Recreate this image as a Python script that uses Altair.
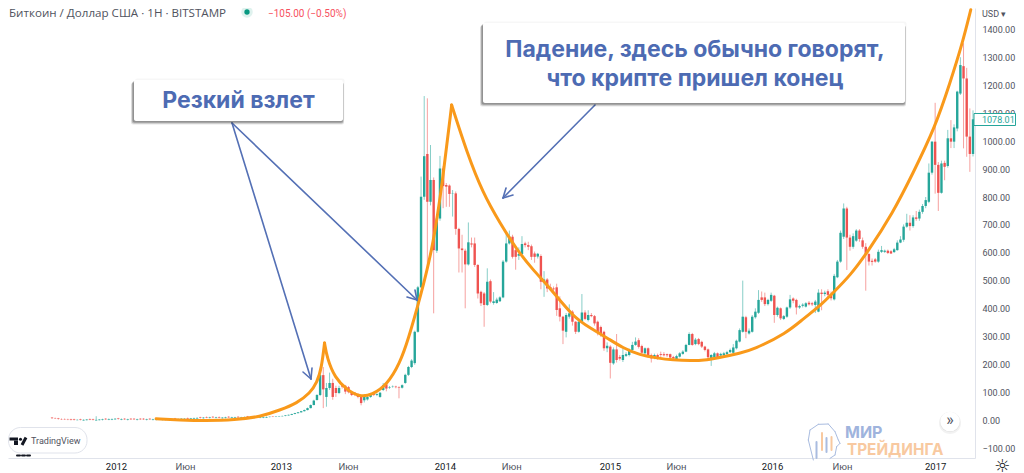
import altair as alt
import pandas as pd

# ---------- weekly candles (USD) ----------
open_ = [
    11,9,8,6,6,5,5,5,2,5, 1,2,6,5,1,2,3,7,4,4,
    5,8,4,7,3,7,7,3,7,7, 3,7,3,3,7,3,3,4,4,8,
    4,5,5,9,6,7,8,12,9,13, 10,14,10,13,9,10,14,10,10,14,
    10,11,15,11,11,15,11,11,
    11,13,15,14,15,16,17,19,21,24, 27,30,34,38,45,56,74,92,
    163,85,117,135,117,99,127,125,120,100,
    100,95,85,73,76,85,95,92,85,110,
    130,118,122,122,120,118,135,164,192,206,
    318,477,801,954,783,861,608,723,902,843,
    841,813,813,686,616,608,559,634,634,557,
    461,455,414,499,421,421,427,441,569,634,
    658,610,590,596,634,628,624,598,587,589,
    497,505,478,473,477,402,372,318,372,390,
    354,318,354,387,360,378,374,354,335,318,
    259,265,205,255,228,217,232,235,253,271,
    288,267,241,259,235,225,235,238,238,238,
    238,228,220,229,239,247,271,310,274,292,
    282,265,255,223,227,241,233,235,238,245,
    243,259,283,318,370,312,318,370,386,441,
    441,417,429,447,378,402,364,372,405,437,
    432,405,411,408,422,420,414,390,458,453,
    463,453,434,513,569,658,759,655,622,644,
    680,645,622,596,572,577,569,604,604,608,
    606,603,610,637,647,694,708,696,727,723,
    747,768,783,887,998,915,815,922,911,1010,
    998,1045,1170,1268,1224,1016,954,
]
close = [
    9,8,6,5,5,4,3,3,3,3, 3,4,4,3,3,4,5,5,6,6,
    7,6,6,5,5,5,5,5,5,5, 5,5,5,5,5,5,5,6,6,6,
    6,7,7,7,8,9,10,10,11,11, 12,12,12,11,11,12,12,12,12,12,
    12,13,13,13,13,13,13,13,
    13,14,14,15,16,17,19,21,24,27, 30,34,38,45,56,72,92,163,
    112,117,135,85,99,117,122,104,102,92,
    92,85,63,85,85,92,92,95,100,127,
    115,120,123,120,118,127,164,192,215,318,
    477,801,946,783,861,610,723,902,839,837,
    811,814,686,616,610,559,638,630,557,455,
    420,414,497,426,427,433,441,569,634,658,
    586,586,596,632,628,622,586,586,597,497,
    505,473,473,470,396,372,322,378,384,354,
    318,354,387,364,378,374,348,315,307,259,
    268,207,255,217,222,235,238,250,271,283,
    264,243,259,235,223,235,223,235,234,234,
    226,223,231,241,247,271,310,271,290,274,
    265,253,227,235,241,227,239,241,245,253,
    262,286,324,372,318,322,372,390,432,432,
    417,432,450,378,404,366,374,405,434,429,
    405,410,415,420,416,416,426,458,453,458,
    450,438,518,569,672,759,655,622,660,680,
    650,622,596,569,568,569,604,610,608,600,
    598,613,637,648,694,708,696,727,722,747,
    768,789,887,998,915,815,920,908,1010,998,
    1049,1177,1272,1224,1016,954,1078,
]
high = [
    13,11,10,8,8,7,7,7,5,7, 5,6,8,7,16,6,7,9,8,8,
    9,10,8,9,7,9,9,7,9,9, 7,9,7,7,9,7,7,8,8,10,
    8,9,9,11,10,11,12,14,13,15, 14,16,14,15,13,14,16,14,14,16,
    14,15,17,15,15,17,15,15,
    15,15,16,16,17,18,20,22,25,28, 31,35,40,47,58,75,95,170,
    192,135,172,150,125,125,130,128,124,104,
    103,98,88,95,88,95,98,98,103,135,
    133,124,126,125,123,130,168,196,220,322,
    482,873,1161,1153,986,870,735,947,910,850,
    845,825,820,690,665,615,709,655,655,560,
    465,460,545,505,460,440,445,575,676,680,
    665,625,620,660,640,640,630,605,600,595,
    535,510,490,480,490,445,375,385,416,395,
    356,360,453,395,395,385,378,358,340,322,
    280,270,262,310,235,258,245,258,282,298,
    295,272,262,262,240,240,240,247,245,240,
    240,232,236,245,252,275,316,314,296,296,
    286,268,258,238,246,244,243,246,250,258,
    274,290,330,501,375,330,378,402,467,462,
    458,436,458,450,408,405,378,408,450,441,
    436,415,420,424,428,425,432,470,470,465,
    470,462,525,575,680,777,765,665,670,685,
    685,655,635,600,580,582,612,625,612,612,
    610,618,645,660,702,740,735,735,750,755,
    775,800,920,1000,1137,925,930,930,1040,1075,
    1060,1180,1300,1350,1262,1117,1110,
]
low = [
    7,6,4,3,3,2,1,1,1,1, 0,1,2,1,0,1,1,3,2,2,
    3,4,2,3,1,3,3,1,3,3, 1,3,1,1,3,1,1,2,2,4,
    2,3,3,5,4,5,6,8,7,9, 8,10,8,9,7,8,10,8,8,10,
    8,9,11,9,9,11,9,9,
    10,12,13,13,14,15,16,18,20,23, 26,29,33,37,44,55,72,88,
    45,50,110,75,85,95,115,95,98,88,
    88,80,55,65,72,82,88,88,82,106,
    105,114,118,116,80,115,132,160,188,200,
    315,475,790,539,770,384,600,715,760,765,
    765,730,665,530,530,402,555,620,550,437,
    410,336,410,420,415,418,425,438,565,630,
    580,540,575,590,620,610,575,565,580,470,
    443,460,465,460,375,355,274,298,365,340,
    310,315,350,360,355,370,340,305,300,250,
    245,151,200,208,215,210,228,230,248,268,
    258,238,236,230,208,220,218,228,230,228,
    222,218,216,226,236,245,270,268,270,270,
    260,248,222,196,224,222,228,232,236,242,
    240,255,280,315,295,308,315,365,382,425,
    410,412,425,350,372,360,360,368,400,420,
    380,400,405,405,412,410,385,388,395,445,
    440,430,430,510,565,650,539,608,615,640,
    640,615,465,555,555,565,565,600,600,596,
    596,600,608,635,640,690,680,690,715,715,
    740,760,778,880,812,750,812,860,905,975,
    975,1035,1165,974,944,890,945,
]

# orange hand-drawn curve: (candle position, USD), three strokes
curve_pos = [
    [33,40.6,48.5,58,66,72.3,77.7,81.8,84,85.5,86.4],
    [86.4,87.2,89.7,93.5,97.6,101.4,106.2,110.3,112.9,116.7,120.8,124,126.7],
    [126.7,131.6,136.6,142,147.4,152.5,157.9,165.2,170.6,176,181,186.4,191.8,196.9,
     202.3,207.7,212.7,218.1,222.2,233,238.1,243.5,248.2,253,258.4,266.6,273,280,284.7,288.5,291.3],
]
curve_val = [
    [7,2.5,0,2.5,14,38,63,99,135,192,278],
    [278,224,153,110,85,92,128,206,289,439,621,872,1129],
    [1129,957,814,707,611,539,475,371,332,296,260,235,224,217,
     214,217,228,242,253,314,364,410,464,519,600,743,886,1050,1208,1344,1470],
]

y_ticks = list(range(-100, 1500, 100))
x_ticks = [(2012,1,11),(2012,6,12),(2013,1,11),(2013,6,9),(2014,1,10),(2014,6,6),
           (2015,1,11),(2015,6,7),(2016,1,6),(2016,6,9),(2017,1,2)]

TEAL, RED, ORANGE, BLUE = "#26a69a", "#ef5350", "#f9991a", "#5470b5"
GREY, LINE = "#50535e", "#e0e3eb"
UI = "Roboto"
BOX = "Inter"

last = pd.Timestamp("2017-03-27")
PX_DAY = 3.154 / 7
n = len(close)
assert n == len(open_) == len(high) == len(low)
dates = [last - pd.Timedelta(days=7 * (n - 1 - i)) for i in range(n)]
candles = pd.DataFrame({"date": dates, "open": open_, "close": close, "high": high, "low": low})

curves = pd.DataFrame(
    [{"stroke": k, "order": j,
      "date": last - pd.Timedelta(days=7 * (n - 1 - p)), "usd": v}
     for k, (ps, vs) in enumerate(zip(curve_pos, curve_val))
     for j, (p, v) in enumerate(zip(ps, vs))]
)

dom_end = last + pd.Timedelta(days=2 / PX_DAY)
dom_start = dom_end - pd.Timedelta(days=967 / PX_DAY)
x_scale = alt.Scale(domain=[dom_start.strftime("%Y-%m-%dT%H:%M:%S"), dom_end.strftime("%Y-%m-%dT%H:%M:%S")])
y_scale = alt.Scale(domain=[-133.4, 1476], nice=False, zero=False)

YEAR = "month(datum.value)==0"
x_axis = alt.Axis(
    title=None, grid=False, ticks=False, domainColor=LINE, domainWidth=1,
    values=[alt.DateTime(year=a, month=b, date=c) for a, b, c in x_ticks],
    labelExpr=f"{YEAR} ? timeFormat(datum.value,'%Y') : 'Июн'",
    labelColor={"condition": {"test": YEAR, "value": "#131722"}, "value": GREY},
    labelFont=UI, labelFontSize=9.5, labelPadding=3, labelOverlap=False, labelFlush=False,
)
y_axis = alt.Axis(
    title=None, grid=False, ticks=False, orient="right", domainColor=LINE, domainWidth=1,
    values=y_ticks, format=".2f", labelFont=UI, labelFontSize=9, labelColor=GREY,
    labelPadding=7, labelOverlap=False,
)
X = alt.X("date:T", scale=x_scale, axis=x_axis)

is_up = alt.condition("datum.open <= datum.close", alt.value(TEAL), alt.value(RED))
base = alt.Chart(candles)
wicks = base.mark_rule(strokeWidth=1, opacity=0.55).encode(
    x=X, y=alt.Y("low:Q", scale=y_scale, axis=y_axis), y2="high:Q", color=is_up,
)
bodies = base.mark_rule(strokeWidth=2.4).encode(
    x=X, y=alt.Y("open:Q", scale=y_scale, axis=y_axis), y2="close:Q", color=is_up,
)
orange = alt.Chart(curves).mark_line(
    color=ORANGE, strokeWidth=3, interpolate="basis", strokeCap="round", clip=True
).encode(
    x=X, y=alt.Y("usd:Q", scale=y_scale, axis=y_axis),
    detail="stroke:N", order="order:Q",
)

one = pd.DataFrame({"k": [0]})
OX, OY = 8, 8  # page margin


def seg(x1, y1, x2, y2, color=BLUE, w=1.6, **kw):
    return alt.Chart(one).mark_rule(color=color, strokeWidth=w, strokeCap="round", **kw).encode(
        x=alt.value(x1 - OX), y=alt.value(y1 - OY), x2=alt.value(x2 - OX), y2=alt.value(y2 - OY))


def box(x1, y1, x2, y2, fill="white", op=1, r=0, **kw):
    return alt.Chart(one).mark_rect(color=fill, opacity=op, cornerRadius=r, **kw).encode(
        x=alt.value(x1 - OX), x2=alt.value(x2 - OX), y=alt.value(y1 - OY), y2=alt.value(y2 - OY))


def txt(s, x, y, size, color=GREY, font=UI, weight="normal", align="left", op=1):
    return alt.Chart(one).mark_text(
        fontSize=size, color=color, font=font, fontWeight=weight, align=align,
        baseline="middle", opacity=op
    ).encode(x=alt.value(x - OX), y=alt.value(y - OY), text=alt.value(s))


def dot(x, y, r, color, op=1):
    return alt.Chart(one).mark_circle(color=color, opacity=op, size=3.1416 * r * r).encode(
        x=alt.value(x - OX), y=alt.value(y - OY))


def shadowed(x1, y1, x2, y2):
    return [
        box(x1 - 3, y1 + 3, x2 + 1, y2 + 3.5, "#000000", 0.10, 2),
        box(x1 - 2.2, y1 + 2, x2 + 0.5, y2 + 2.5, "#000000", 0.18, 2),
        box(x1 - 1.4, y1 + 1, x2, y2 + 1.5, "#000000", 0.22, 2),
        box(x1 + 1, y1 - 1.5, x2 + 1.5, y2, "#000000", 0.03, 2),
        box(x1, y1, x2, y2, "white", 1, 2),
    ]


arrows = [
    seg(232, 123, 311, 379), seg(303, 372, 311, 379), seg(312, 368, 311, 379),
    seg(232, 123, 417, 300), seg(407, 297, 417, 300), seg(415, 290, 417, 300),
    seg(595, 105, 503, 198), seg(513, 195, 503, 198), seg(506, 188, 503, 198),
]
boxes = shadowed(134, 80, 343, 121) + shadowed(483, 23, 905, 103)
BT = "#4d6bb3"
box_text = [
    txt("Резкий взлет", 238.5, 101, 23, BT, BOX, "bold", "center"),
    txt("Падение, здесь обычно говорят,", 695, 50, 23, BT, BOX, "bold", "center"),
    txt("что крипте пришел конец", 695, 79, 23, BT, BOX, "bold", "center"),
]
header = [
    txt("Биткоин / Доллар США · 1Н · BITSTAMP", 9, 13.5, 11.6, GREY, "Open Sans"),
    dot(247, 12, 6.5, "#dff2ee"), dot(247, 12, 3, "#089981"),
    txt("−105.00 (−0.50%)", 268, 13.5, 10, "#f7525f", UI),
    txt("USD ▾", 982, 13.5, 9, GREY, UI),
]
price_tag = [
    alt.Chart(one).mark_rect(color="white", stroke=TEAL, strokeWidth=1).encode(
        x=alt.value(974 - OX), x2=alt.value(1015.5 - OX), y=alt.value(113.5 - OY), y2=alt.value(125.5 - OY)),
    txt("1078.01", 982, 119.5, 9, TEAL, UI),
]
logo = [
    alt.Chart(one).mark_rect(color="white", stroke=LINE, strokeWidth=1, cornerRadius=12).encode(
        x=alt.value(8.5 - OX), x2=alt.value(87 - OX), y=alt.value(427.5 - OY), y2=alt.value(453 - OY)),
    box(9.5, 437.5, 18, 440.5, "#131722"), box(14, 440.5, 18, 445, "#131722"),
    dot(20.5, 439.2, 1.7, "#131722"),
    alt.Chart(one).mark_rule(color="#131722", strokeWidth=3).encode(
        x=alt.value(26 - OX), x2=alt.value(22 - OX), y=alt.value(437.5 - OY), y2=alt.value(445 - OY)),
    txt("TradingView", 31, 441, 9, GREY, UI),
    seg(17, 455.5, 31, 455.5, "#131722", 2, strokeDash=[3, 2]),
]
go_btn = [
    dot(950, 423, 12.5, "#000000", 0.05),
    dot(950, 422, 11.5, "#000000", 0.06),
    dot(950, 421.5, 11, "white"),
    txt("»", 950, 420, 16, GREY, UI, "normal", "center"),
]
head_pts = [(160,180),(145,120),(150,90),(175,73),(205,72),(225,95),(235,120),(240,130),(230,140),(225,165),(210,175)]
head_xy = [(760 + a / 3, 400 + b / 3) for a, b in head_pts]
head = [seg(*p, *q, "#a9bce0", 1) for p, q in zip(head_xy, head_xy[1:])]
head += [
    seg(816.5, 442, 816.5, 458, "#a9bce0", 2), seg(822, 433, 822, 450, "#f8c9a0", 2),
    seg(826.5, 438, 826.5, 452, "#a9bce0", 2), seg(831.5, 437, 831.5, 450, "#f8c9a0", 2),
]
mark = head + [
    txt("МИР", 845, 433, 16, "#9fb4dd", BOX, "bold"),
    txt("ТРЕЙДИНГА", 847, 449.5, 15.3, "#f8c9a0", BOX, "bold"),
]
gear = [txt("☼", 1002, 466.5, 18, "#131722", "DejaVu Sans", "normal", "center")]

chart = alt.layer(
    wicks, bodies, orange, *mark, *arrows, *boxes, *box_text, *header, *price_tag, *logo, *go_btn, *gear
).properties(
    width=967, height=450,
    padding={"left": 0, "top": 0, "right": 41, "bottom": 14},
    autosize=alt.AutoSizeParams(type="none"),
    background="white",
).configure_view(stroke=None)

chart.save("out.html", embed_options={"renderer": "svg", "actions": False})
